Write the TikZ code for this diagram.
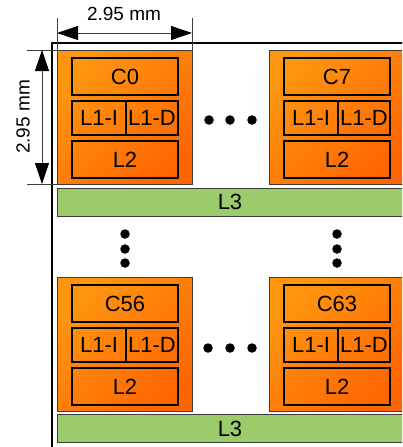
\documentclass[tikz,border=0pt]{standalone}
\usepackage{fontspec}
\setmainfont{Liberation Sans}
\usetikzlibrary{arrows.meta,calc}
\definecolor{orLight}{RGB}{255,150,16}
\definecolor{orDark}{RGB}{255,102,0}
\definecolor{lgreen}{RGB}{155,203,107}
\definecolor{dimgray}{RGB}{60,60,60}
\tikzset{
  tile/.style={draw=dimgray, line width=1pt, top color=orLight, bottom color=orDark, shading angle=45,
    minimum width=135pt, minimum height=134pt, inner sep=0pt, anchor=north west},
  cachebox/.style={draw=black, line width=2pt, inner sep=0pt, anchor=north west,
    font=\fontsize{22}{24}\selectfont},
  l3bar/.style={draw=dimgray, line width=1.4pt, fill=lgreen, minimum width=346pt, minimum height=28pt,
    inner sep=0pt, anchor=north west},
  l3label/.style={font=\fontsize{22}{24}\selectfont, inner sep=0pt},
  dot/.style={circle, fill=black, minimum size=9.5pt, inner sep=0pt},
  dimline/.style={draw=dimgray, line width=0.9pt},
  dimarrow/.style={dimline, {Triangle[length=21pt,width=14pt,black]}-{Triangle[length=21pt,width=14pt,black]}},
  dimlabel/.style={font=\fontsize{19}{21}\selectfont, inner sep=0pt}
}
\newcommand\coretile[4]{%
  \node[tile] (#1) at (#2,#3) {};
  \node[cachebox, minimum width=106pt, minimum height=37pt] (#1c) at ([shift={(14,7)}]#1.north west) {#4};
  \node[cachebox, minimum width=54pt, minimum height=34pt] (#1i) at ([shift={(14,50)}]#1.north west) {L1-I};
  \node[cachebox, minimum width=52pt, minimum height=34pt] (#1d) at ([shift={(68,50)}]#1.north west) {L1-D};
  \node[cachebox, minimum width=106pt, minimum height=37pt] (#1l) at ([shift={(14,90)}]#1.north west) {L2};
}
\begin{document}
\begin{tikzpicture}[x=1pt,y=-1pt]
\useasboundingbox (0,0) rectangle (402,447);
\clip (0,0) rectangle (402,447);
% frame
\coordinate (fbl) at (52,460);
\coordinate (ftl) at (52,43);
\coordinate (ftr) at (420,43);
\draw[line width=2pt] (fbl) -- (ftl) -- (ftr);
% tiles
\coretile{t0}{57}{50}{C0}
\coretile{t7}{269}{50}{C7}
\coretile{t56}{57}{277}{C56}
\coretile{t63}{269}{277}{C63}
% L3 bars
\node[l3bar] (l3a) at (57,188) {};
\node[l3label] (l3alab) at (230,202) {L3};
\node[l3bar] (l3b) at (57,414) {};
\node[l3label] (l3blab) at (230,429) {L3};
% dots
\node[dot] (h1) at (209,120) {};
\node[dot] (h2) at (230,120) {};
\node[dot] (h3) at (252,120) {};
\node[dot] (h4) at (208,348) {};
\node[dot] (h5) at (230,348) {};
\node[dot] (h6) at (252,348) {};
\node[dot] (v1) at (125,234) {};
\node[dot] (v2) at (125,249) {};
\node[dot] (v3) at (125,263) {};
\node[dot] (v4) at (337,234) {};
\node[dot] (v5) at (337,249) {};
\node[dot] (v6) at (337,263) {};
% horizontal dimension
\coordinate (ha) at (57,18);
\coordinate (hb) at (192,18);
\coordinate (ha2) at (57,50);
\coordinate (hb2) at (192,50);
\coordinate (hl) at (57,33);
\coordinate (hr) at (192,33);
\draw[dimline] (ha) -- (ha2);
\draw[dimline] (hb) -- (hb2);
\draw[dimarrow] (hl) -- (hr);
\node[dimlabel] (hlab) at (124,14) {2.95 mm};
% vertical dimension
\coordinate (va) at (27,50);
\coordinate (va2) at (57,50);
\coordinate (vb) at (27,184);
\coordinate (vb2) at (57,184);
\coordinate (vt) at (42,50);
\coordinate (vbt) at (42,184);
\draw[dimline] (va) -- (va2);
\draw[dimline] (vb) -- (vb2);
\draw[dimarrow] (vt) -- (vbt);
\node[dimlabel, rotate=90] (vlab) at (23,117) {2.95 mm};
\end{tikzpicture}
\end{document}
